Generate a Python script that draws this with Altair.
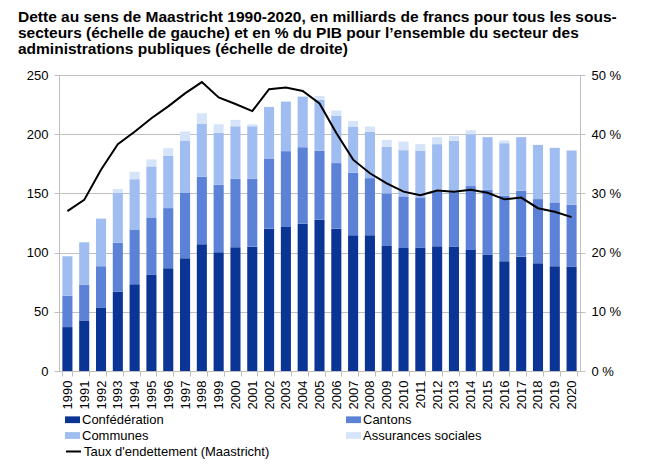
import altair as alt
import pandas as pd

years = [str(y) for y in range(1990, 2021)]
confederation = [37.1, 42.7, 53.7, 66.9, 73.3, 81.2, 86.8, 95.2, 107.0, 100.3, 104.5, 105.0, 120.2, 121.6, 124.4, 127.8,
                 120.2, 114.6, 114.6, 105.6, 103.9, 104.0, 105.3, 104.8, 102.2, 98.3, 92.7, 96.6, 91.0, 88.5, 88.2]
cantons = [26.4, 30.3, 34.8, 41.5, 45.8, 48.0, 50.8, 55.1, 57.0, 57.0, 57.9, 57.4, 59.3, 64.1, 64.6, 58.2,
           55.4, 52.8, 48.3, 44.4, 43.6, 42.6, 46.4, 46.3, 54.0, 54.8, 55.3, 55.6, 54.2, 53.9, 52.2]
communes = [33.4, 35.7, 40.2, 41.9, 42.9, 43.6, 44.1, 44.4, 45.0, 43.8, 44.3, 44.3, 43.5, 41.8, 42.7, 43.0,
            39.8, 39.1, 39.1, 39.3, 39.0, 39.6, 39.9, 43.3, 43.8, 44.4, 44.4, 45.3, 45.8, 46.1, 45.8]
assurances = [0.0, 0.0, 0.0, 3.4, 6.3, 5.9, 6.5, 7.5, 8.7, 7.3, 5.4, 1.7, 0.0, 0.5, 0.6, 3.3,
              4.6, 4.7, 4.5, 5.9, 7.3, 5.4, 5.9, 4.2, 3.4, 0.0, 2.3, 0.0, 0.0, 0.0, 0.0]
taux = [27.0, 28.9, 34.0, 38.3, 40.4, 42.7, 44.7, 46.9, 48.8, 46.2, 45.1, 43.9, 47.6, 47.9, 47.3, 45.2,
        40.2, 35.7, 33.4, 31.7, 30.3, 29.7, 30.5, 30.3, 30.6, 30.1, 29.0, 29.3, 27.5, 26.9, 26.0]

series = ["Confédération", "Cantons", "Communes", "Assurances sociales"]
colors = ["#0b3594", "#5b82d6", "#a0bdf2", "#d6e4fa"]
line_name = "Taux d'endettement (Maastricht)"

rows = []
for i, y in enumerate(years):
    for k, (s, vals) in enumerate(zip(series, [confederation, cantons, communes, assurances])):
        rows.append({"annee": y, "secteur": s, "valeur": vals[i], "ordre": k})
bars_df = pd.DataFrame(rows)
line_df = pd.DataFrame({"annee": years, "taux": taux, "serie": [line_name] * len(years)})

FONT = "Liberation Sans"
GRAY = "#bfbfbf"

x_enc = alt.X("annee:N", sort=years, title=None,
              scale=alt.Scale(paddingInner=0.4, paddingOuter=0.2),
              axis=alt.Axis(labelAngle=270, tickBand="extent", domainColor=GRAY, tickColor=GRAY,
                            tickSize=5, labelPadding=4, labelFont=FONT, labelFontSize=13,
                            labelColor="black"))

bars = alt.Chart(bars_df).mark_bar().encode(
    x=x_enc,
    y=alt.Y("sum(valeur):Q", title=None, stack="zero",
            scale=alt.Scale(domain=[0, 250], nice=False),
            axis=alt.Axis(values=[0, 50, 100, 150, 200, 250], grid=True, gridColor=GRAY,
                          domainColor=GRAY, tickColor=GRAY, tickSize=5, labelPadding=6,
                          labelFont=FONT, labelFontSize=13, labelColor="black")),
    color=alt.Color("secteur:N", sort=series,
                    scale=alt.Scale(domain=series, range=colors),
                    legend=alt.Legend(title=None, orient="none", legendX=6, legendY=337,
                                      direction="horizontal", columns=2, columnPadding=182,
                                      rowPadding=1,
                                      symbolType="M-1,-0.45H1V0.45H-1Z", symbolSize=225,
                                      symbolStrokeWidth=0, symbolOffset=0, labelOffset=2,
                                      labelFont=FONT, labelFontSize=13, labelColor="black")),
    order=alt.Order("ordre:Q", sort="ascending"),
)

line = alt.Chart(line_df).mark_line(strokeWidth=2).encode(
    x=alt.X("annee:N", sort=years),
    y=alt.Y("taux:Q", title=None, scale=alt.Scale(domain=[0, 50], nice=False),
            axis=alt.Axis(orient="right", values=[0, 10, 20, 30, 40, 50], grid=False,
                          labelExpr="datum.value + ' %'", domainColor=GRAY, tickColor=GRAY,
                          tickSize=5, labelPadding=6, labelFont=FONT, labelFontSize=13,
                          labelColor="black")),
    stroke=alt.Stroke("serie:N", scale=alt.Scale(domain=[line_name], range=["black"]),
                      legend=alt.Legend(title=None, orient="none", legendX=6, legendY=368,
                                        symbolType="stroke", symbolSize=225, symbolStrokeWidth=2,
                                        labelOffset=2, labelLimit=400, labelFont=FONT,
                                        labelFontSize=13, labelColor="black")),
)

title_lines = [
    "Dette au sens de Maastricht 1990-2020, en milliards de francs pour tous les sous-",
    "secteurs (échelle de gauche) et en % du PIB pour l’ensemble du secteur des",
    "administrations publiques (échelle de droite)",
]

chart = alt.layer(bars, line).resolve_scale(y="independent", color="independent").properties(
    width=521, height=296,
    autosize=alt.AutoSizeParams(type="none"),
    padding={"left": 51, "top": 67, "right": 80, "bottom": 92},
    title=alt.TitleParams(text=title_lines, anchor="start", frame="group", dx=-41, offset=12,
                          font=FONT, fontSize=15.5, fontWeight="bold", color="black",
                          lineHeight=16),
).configure_view(stroke=None).configure(background="white")

chart.save("out.html", embed_options={"renderer": "svg", "actions": False})
